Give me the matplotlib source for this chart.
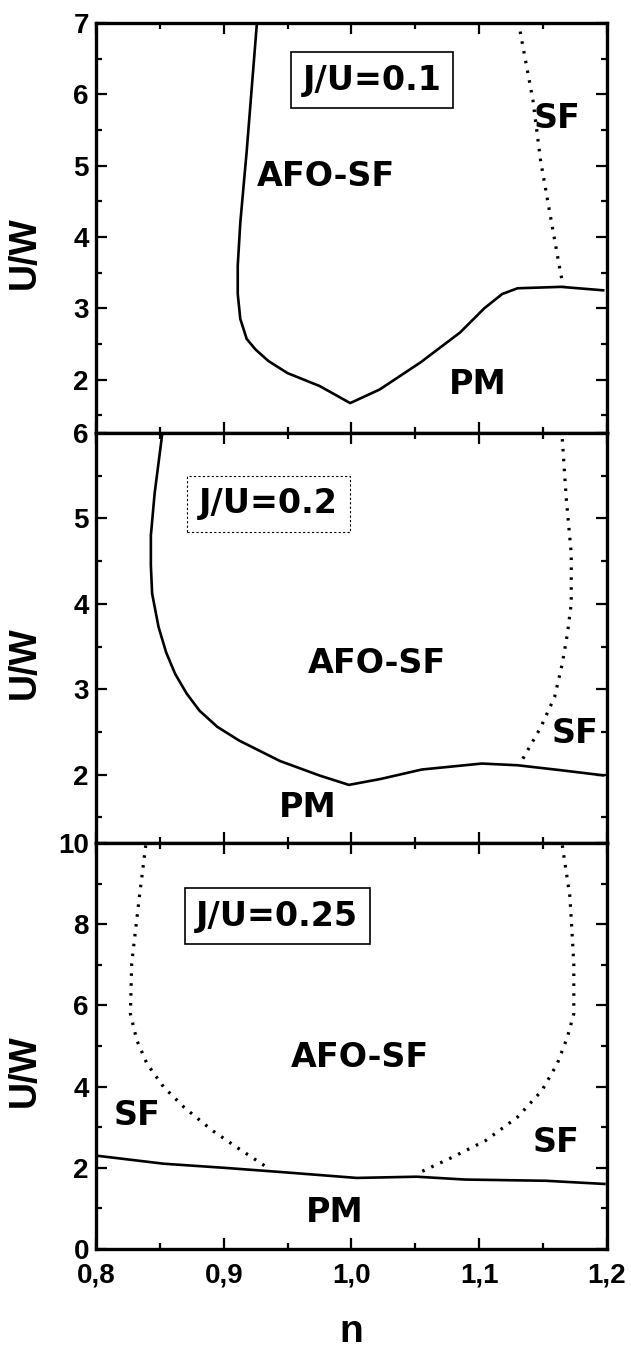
import numpy as np
import matplotlib.pyplot as plt
from matplotlib.ticker import MultipleLocator, FixedLocator

plt.rcParams['font.family'] = ['Liberation Sans', 'DejaVu Sans']
plt.rcParams['font.weight'] = 'bold'

# J/U = 0.1
x1_solid = [0.926, 0.918, 0.913, 0.911, 0.911, 0.913, 0.918, 0.925, 0.935, 0.950, 0.975, 0.999,
            1.022, 1.054, 1.085, 1.104, 1.118, 1.130, 1.164, 1.198]
y1_solid = [7.0, 5.2, 4.2, 3.6, 3.2, 2.85, 2.57, 2.42, 2.26, 2.09, 1.91, 1.67,
            1.86, 2.24, 2.66, 3.00, 3.20, 3.28, 3.30, 3.25]
x1_dot = [1.132, 1.142, 1.148, 1.156, 1.164, 1.166]
y1_dot = [6.88, 5.92, 5.07, 4.26, 3.46, 3.32]

# J/U = 0.2
x2_solid = [0.852, 0.846, 0.843, 0.843, 0.844, 0.849, 0.855, 0.862, 0.871, 0.881, 0.895, 0.912,
            0.944, 0.975, 0.998, 1.023, 1.055, 1.102, 1.130, 1.165, 1.198]
y2_solid = [6.0, 5.3, 4.8, 4.45, 4.12, 3.73, 3.43, 3.18, 2.95, 2.75, 2.56, 2.40,
            2.16, 1.99, 1.88, 1.95, 2.06, 2.13, 2.11, 2.05, 1.99]
x2_dot = [1.165, 1.168, 1.172, 1.172, 1.169, 1.165, 1.159, 1.148, 1.132]
y2_dot = [5.93, 5.25, 4.59, 4.0, 3.65, 3.30, 2.91, 2.55, 2.13]

# J/U = 0.25
x3_solid = [0.8, 0.853, 0.900, 0.947, 1.004, 1.051, 1.089, 1.152, 1.199]
y3_solid = [2.30, 2.10, 2.0, 1.89, 1.75, 1.78, 1.71, 1.68, 1.60]
x3_dot_left = [0.839, 0.834, 0.828, 0.827, 0.832, 0.840, 0.853, 0.869, 0.891, 0.910, 0.932]
y3_dot_left = [9.94, 8.67, 7.03, 5.79, 5.14, 4.56, 3.99, 3.49, 2.92, 2.51, 2.05]
x3_dot_right = [1.165, 1.171, 1.174, 1.174, 1.169, 1.161, 1.149, 1.130, 1.105, 1.079, 1.051]
y3_dot_right = [9.94, 8.67, 7.03, 5.79, 5.22, 4.56, 3.90, 3.25, 2.67, 2.26, 1.85]

x_ticks = [0.8, 0.9, 1.0, 1.1, 1.2]
x_ticklabels = ['0,8', '0,9', '1,0', '1,1', '1,2']

fig = plt.figure(figsize=(6.31, 13.52), dpi=100)
ax1 = fig.add_axes([0.152, 0.6797, 0.810, 0.3033])
ax2 = fig.add_axes([0.152, 0.3765, 0.810, 0.3032])
ax3 = fig.add_axes([0.152, 0.0762, 0.810, 0.3003])

solid_kw = dict(color='black', lw=1.9, solid_capstyle='butt')
dot_kw = dict(color='black', lw=2.3, linestyle=(0, (0.8, 2.3)))

ax1.plot(x1_solid, y1_solid, **solid_kw)
ax1.plot(x1_dot, y1_dot, **dot_kw)
ax2.plot(x2_solid, y2_solid, **solid_kw)
ax2.plot(x2_dot, y2_dot, **dot_kw)
ax3.plot(x3_solid, y3_solid, **solid_kw)
ax3.plot(x3_dot_left, y3_dot_left, **dot_kw)
ax3.plot(x3_dot_right, y3_dot_right, **dot_kw)

ax1.set_ylim(1.25, 7)
ax2.set_ylim(1.2, 6)
ax3.set_ylim(0, 10)
ax1.yaxis.set_major_locator(MultipleLocator(1))
ax1.yaxis.set_minor_locator(MultipleLocator(0.5))
ax2.yaxis.set_major_locator(MultipleLocator(1))
ax2.yaxis.set_minor_locator(MultipleLocator(0.5))
ax3.yaxis.set_major_locator(MultipleLocator(2))
ax3.yaxis.set_minor_locator(MultipleLocator(1))

for ax in (ax1, ax2, ax3):
    ax.set_xlim(0.8, 1.2)
    ax.xaxis.set_major_locator(FixedLocator(x_ticks))
    ax.xaxis.set_minor_locator(MultipleLocator(0.05))
    ax.tick_params(which='both', direction='in', top=True, right=True, width=1.6)
    ax.tick_params(which='major', length=8, labelsize=20, pad=5)
    ax.tick_params(which='minor', length=4)
    ax.tick_params(axis='x', pad=10)
    for sp in ax.spines.values():
        sp.set_linewidth(2.4)
    ax.set_ylabel('U/W', fontsize=27, fontweight='bold')
    ax.yaxis.set_label_coords(-0.104, 0.44)
    for lbl in ax.get_yticklabels():
        lbl.set_fontweight('bold')

ax1.set_xticklabels([])
ax2.set_xticklabels([])
ax3.set_xticklabels(x_ticklabels, fontweight='bold')
ax3.set_xlabel('n', fontsize=28, fontweight='bold', labelpad=18)

lab = dict(fontsize=24, fontweight='bold', ha='center', va='center',
           family=['DejaVu Sans'])
box = dict(boxstyle='square,pad=0.35', fc='white', ec='black', lw=1.2)

ax1.text(1.016, 6.2, 'J/U=0.1', bbox=box, **lab)
ax1.text(1.161, 5.66, 'SF', **lab)
ax1.text(0.980, 4.85, 'AFO-SF', **lab)
ax1.text(1.099, 1.93, 'PM', **lab)

ax2.text(0.935, 5.17, 'J/U=0.2',
         bbox=dict(boxstyle='square,pad=0.35', fc='white', ec='black', lw=0.8,
                   linestyle=(0, (2, 2))), **lab)
ax2.text(1.020, 3.30, 'AFO-SF', **lab)
ax2.text(1.175, 2.48, 'SF', **lab)
ax2.text(0.966, 1.62, 'PM', **lab)

ax3.text(0.942, 8.2, 'J/U=0.25', bbox=box, **lab)
ax3.text(1.007, 4.72, 'AFO-SF', **lab)
ax3.text(0.832, 3.29, 'SF', **lab)
ax3.text(1.160, 2.63, 'SF', **lab)
ax3.text(0.987, 0.90, 'PM', **lab)

fig.savefig('out.png', dpi=100)
